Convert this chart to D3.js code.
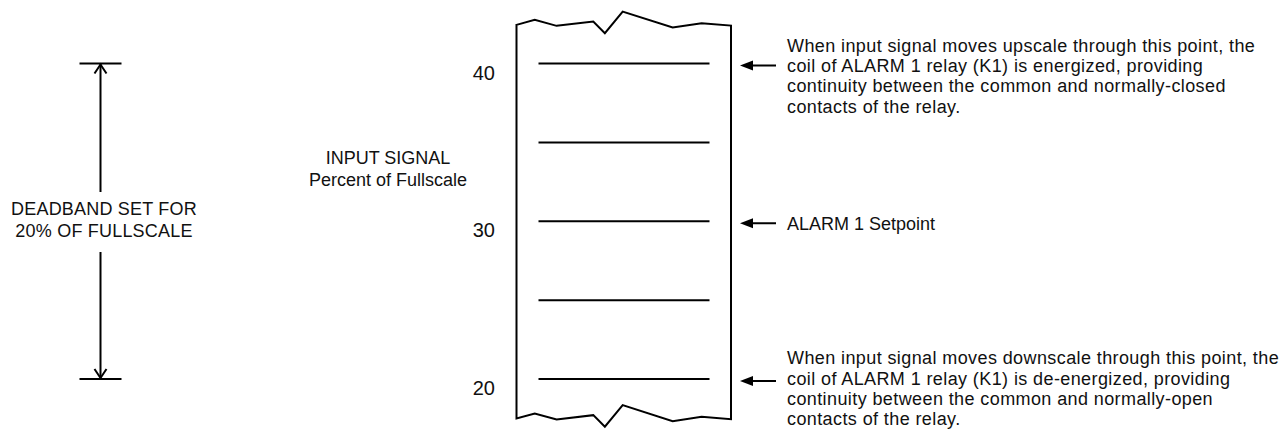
<!DOCTYPE html>
<html>
<head>
<meta charset="utf-8">
<script src="https://cdn.jsdelivr.net/npm/d3@7"></script>
<style>
  body { margin: 0; background: #fff; }
  svg text { font-family: Arial, "Liberation Sans", sans-serif; fill: #111; }
</style>
</head>
<body>
<div id="chart"></div>
<script>
// scale values (percent of fullscale)
const gridLines = [20, 25, 30, 35, 40];
const tickLabels = [20, 30, 40];
const setpoint = 30;
const upperPoint = 40;
const lowerPoint = 20;
const paperRange = [17.5, 42.45];
const axisTitle = ["INPUT SIGNAL", "Percent of Fullscale"];
const deadbandLabel = ["DEADBAND SET FOR", "20% OF FULLSCALE"];
const noteValues = [40, 30, 20];
const noteTexts = [
  ["When input signal moves upscale through this point, the",
   "coil of ALARM 1 relay (K1) is energized, providing",
   "continuity between the common and normally-closed",
   "contacts of the relay."],
  ["ALARM 1 Setpoint"],
  ["When input signal moves downscale through this point, the",
   "coil of ALARM 1 relay (K1) is de-energized, providing",
   "continuity between the common and normally-open",
   "contacts of the relay."]
];
// torn paper edge, as fraction of width and vertical offset in px
const tornEdge = [[0, 0], [0.085, -5], [0.187, 1], [0.358, -3.3], [0.412, 8.3],
  [0.495, -13.3], [0.728, 2.7], [0.863, -1.7], [1, 0.7]];

const width = 1282, height = 430;
const svg = d3.select("#chart").append("svg")
  .attr("width", width).attr("height", height);

const y = d3.scaleLinear().domain([lowerPoint, upperPoint]).range([379, 63.5]);
const paperX = d3.scaleLinear().domain([0, 1]).range([516.5, 731]);

// paper strip
const yTop = y(paperRange[1]), yBot = y(paperRange[0]);
const topPts = tornEdge.map(d => [paperX(d[0]), yTop + d[1]]);
const botPts = tornEdge.map(d => [paperX(d[0]), yBot + d[1]]).reverse();
svg.append("path")
  .attr("d", d3.line()(topPts.concat(botPts)) + "Z")
  .attr("fill", "#fff").attr("stroke", "#000").attr("stroke-width", 2)
  .attr("stroke-linejoin", "miter");

svg.selectAll(".grid").data(gridLines).enter().append("line")
  .attr("class", "grid")
  .attr("x1", 538.5).attr("x2", 709.5)
  .attr("y1", d => y(d)).attr("y2", d => y(d))
  .attr("stroke", "#000").attr("stroke-width", 2);

svg.selectAll(".tick").data(tickLabels).enter().append("text")
  .attr("class", "tick")
  .attr("x", 495).attr("y", d => y(d) + 16)
  .attr("text-anchor", "end").attr("font-size", 20)
  .text(d => d);

svg.append("text").attr("text-anchor", "middle").attr("font-size", 18)
  .selectAll("tspan").data(axisTitle).enter().append("tspan")
  .attr("x", 388).attr("y", (d, i) => 164 + i * 22)
  .text(d => d);

// deadband dimension arrow
const dimX = 100.5;
const dim = svg.append("g").attr("stroke", "#000").attr("stroke-width", 2).attr("fill", "none");
[upperPoint, lowerPoint].forEach(v => {
  dim.append("line").attr("x1", dimX - 21).attr("x2", dimX + 21)
    .attr("y1", y(v)).attr("y2", y(v));
});
dim.append("line").attr("x1", dimX).attr("x2", dimX).attr("y1", y(upperPoint)).attr("y2", 192);
dim.append("line").attr("x1", dimX).attr("x2", dimX).attr("y1", 252).attr("y2", y(lowerPoint));
dim.append("path").attr("d", `M${dimX - 6},${y(upperPoint) + 10}L${dimX},${y(upperPoint) + 1}L${dimX + 6},${y(upperPoint) + 10}`);
dim.append("path").attr("d", `M${dimX - 6},${y(lowerPoint) - 10}L${dimX},${y(lowerPoint) - 1}L${dimX + 6},${y(lowerPoint) - 10}`);

svg.append("text").attr("text-anchor", "middle").attr("font-size", 18)
  .attr("letter-spacing", 0.2)
  .selectAll("tspan").data(deadbandLabel).enter().append("tspan")
  .attr("x", 104).attr("y", (d, i) => 215 + i * 22)
  .text(d => d);

// annotations
noteValues.forEach((v, k) => {
  const ay = y(v) + 2;
  svg.append("line").attr("x1", 750).attr("x2", 776)
    .attr("y1", ay).attr("y2", ay).attr("stroke", "#000").attr("stroke-width", 2);
  svg.append("path")
    .attr("d", `M740,${ay}L753,${ay - 5}L753,${ay + 5}Z`).attr("fill", "#000");
  const lines = noteTexts[k];
  const multi = lines.length > 1;
  const first = multi ? 1 : 0;
  const off = v === lowerPoint ? 3.5 : 6.5;
  svg.append("text").attr("font-size", 18)
    .attr("letter-spacing", multi ? 0.4 : 0)
    .selectAll("tspan").data(lines).enter().append("tspan")
    .attr("x", 787).attr("y", (d, i) => ay + off + (i - first) * 20.3)
    .text(d => d);
});
</script>
</body>
</html>
